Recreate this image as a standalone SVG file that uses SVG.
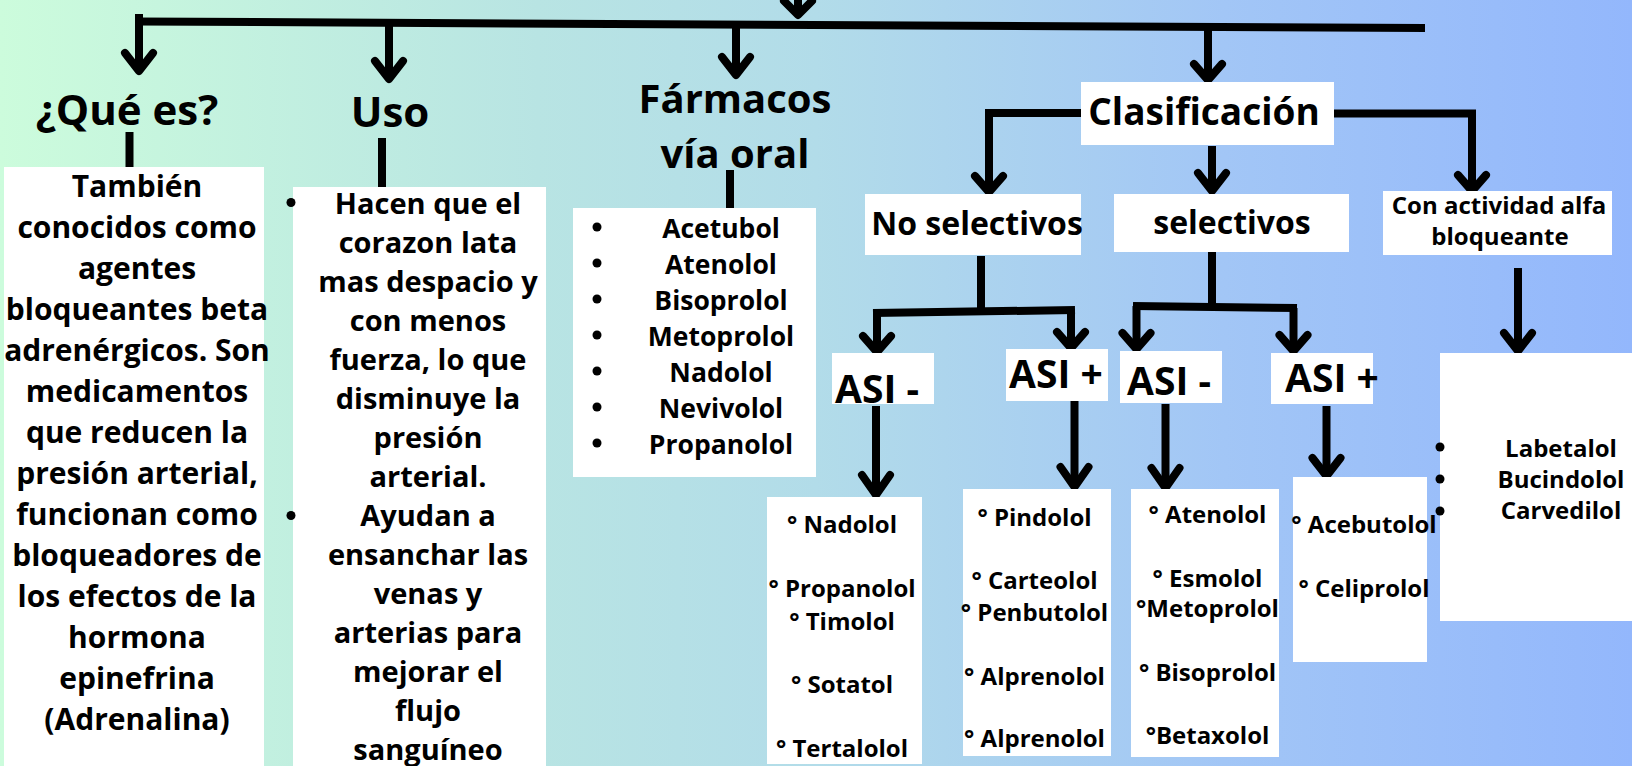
<svg xmlns="http://www.w3.org/2000/svg" width="1632" height="766" viewBox="0 0 1632 766">
<defs>
<linearGradient id="bg" x1="0" y1="0" x2="1" y2="0">
<stop offset="0" stop-color="#ccfcdc"/>
<stop offset="0.33" stop-color="#b8e4e3"/>
<stop offset="0.5" stop-color="#b2dce9"/>
<stop offset="0.75" stop-color="#a2c6f6"/>
<stop offset="1" stop-color="#93b7fc"/>
</linearGradient>
<style>
text{font-family:"Open Sans","Noto Sans","Liberation Sans",sans-serif;font-weight:700;fill:#000;}
.c{text-anchor:middle;}
.h{font-size:42px;}
.f{font-size:40px;}
.cl{font-size:37px;}
.m{font-size:32px;}
.asi{font-size:39px;}
.b1{font-size:30px;}
.b2{font-size:29px;}
.b3{font-size:26.5px;}
.s{font-size:24px;}
.box{fill:#fff;}
.ln{fill:none;stroke:#000;stroke-width:8;stroke-linecap:butt;stroke-linejoin:miter;}
.hd{fill:none;stroke:#000;stroke-width:8;stroke-linecap:round;stroke-linejoin:round;}
</style>
</defs>
<rect width="1632" height="766" fill="url(#bg)"/>

<g id="connectors">
<path class="ln" d="M136,21.5 L1425,28"/>
<path class="ln" d="M798,-5 V14"/>
<path class="hd" d="M784,1 L798,15 L812,1"/>
<path class="ln" d="M139,14 V71"/>
<path class="hd" d="M125,53 L139,71 L153,53"/>
<path class="ln" d="M389,24 V79"/>
<path class="hd" d="M375,61 L389,79 L403,61"/>
<path class="ln" d="M736,25 V75"/>
<path class="hd" d="M722,57 L736,75 L750,57"/>
<path class="ln" d="M1208,27 V80"/>
<path class="hd" d="M1194,64 L1208,80 L1222,64"/>
<path class="ln" d="M129.5,132 V167"/>
<path class="ln" d="M382,138 V187"/>
<path class="ln" d="M730,170 V208"/>
<path class="ln" d="M1081,113 H989 V192"/>
<path class="hd" d="M975,176 L989,192 L1003,176"/>
<path class="ln" d="M1212,146 V191"/>
<path class="hd" d="M1198,173 L1212,191 L1226,173"/>
<path class="ln" d="M1334,113.5 H1472 V191"/>
<path class="hd" d="M1458,175 L1472,191 L1486,175"/>
<path class="ln" d="M981,256 V311"/>
<path class="ln" d="M873,313 L1075,310"/>
<path class="ln" d="M877,313 V352"/>
<path class="hd" d="M863,336 L877,352 L891,336"/>
<path class="ln" d="M1071,310 V348"/>
<path class="hd" d="M1057,332 L1071,348 L1085,332"/>
<path class="ln" d="M876,406 V495"/>
<path class="hd" d="M862,475 L876,495 L890,475"/>
<path class="ln" d="M1074.5,401 V487"/>
<path class="hd" d="M1060.5,467 L1074.5,487 L1088.5,467"/>
<path class="ln" d="M1212,252 V307"/>
<path class="ln" d="M1133,306 L1297,308"/>
<path class="ln" d="M1136.5,306 V349"/>
<path class="hd" d="M1122.5,333 L1136.5,349 L1150.5,333"/>
<path class="ln" d="M1293.5,308 V351"/>
<path class="hd" d="M1279.5,335 L1293.5,351 L1307.5,335"/>
<path class="ln" d="M1165.5,404 V488"/>
<path class="hd" d="M1151.5,468 L1165.5,488 L1179.5,468"/>
<path class="ln" d="M1326.5,406 V476"/>
<path class="hd" d="M1312.5,458 L1326.5,476 L1340.5,458"/>
<path class="ln" d="M1518,268 V351"/>
<path class="hd" d="M1504,333 L1518,351 L1532,333"/>
</g>

<g id="que-es">
<text class="h c" x="127" y="125">¿Qué es?</text>
</g>
<g id="que-es-desc">
<rect class="box" x="4" y="167" width="260" height="600"/>
<text class="b1 c" x="137" y="197">También</text>
<text class="b1 c" x="137" y="238">conocidos como</text>
<text class="b1 c" x="137" y="279">agentes</text>
<text class="b1 c" x="137" y="320">bloqueantes beta</text>
<text class="b1 c" x="137" y="361">adrenérgicos. Son</text>
<text class="b1 c" x="137" y="402">medicamentos</text>
<text class="b1 c" x="137" y="443">que reducen la</text>
<text class="b1 c" x="137" y="484">presión arterial,</text>
<text class="b1 c" x="137" y="525">funcionan como</text>
<text class="b1 c" x="137" y="566">bloqueadores de</text>
<text class="b1 c" x="137" y="607">los efectos de la</text>
<text class="b1 c" x="137" y="648">hormona</text>
<text class="b1 c" x="137" y="689">epinefrina</text>
<text class="b1 c" x="137" y="730">(Adrenalina)</text>
</g>

<g id="uso">
<text class="h c" x="390" y="127">Uso</text>
</g>
<g id="uso-desc">
<rect class="box" x="293" y="187" width="253" height="580"/>
<circle cx="291" cy="202.5" r="4.5"/>
<circle cx="291" cy="515.5" r="4.5"/>
<text class="b2 c" x="428" y="214">Hacen que el</text>
<text class="b2 c" x="428" y="253">corazon lata</text>
<text class="b2 c" x="428" y="292">mas despacio y</text>
<text class="b2 c" x="428" y="331">con menos</text>
<text class="b2 c" x="428" y="370">fuerza, lo que</text>
<text class="b2 c" x="428" y="409">disminuye la</text>
<text class="b2 c" x="428" y="448">presión</text>
<text class="b2 c" x="428" y="487">arterial.</text>
<text class="b2 c" x="428" y="526">Ayudan a</text>
<text class="b2 c" x="428" y="565">ensanchar las</text>
<text class="b2 c" x="428" y="604">venas y</text>
<text class="b2 c" x="428" y="643">arterias para</text>
<text class="b2 c" x="428" y="682">mejorar el</text>
<text class="b2 c" x="428" y="721">flujo</text>
<text class="b2 c" x="428" y="760">sanguíneo</text>
</g>

<g id="farmacos">
<text class="f c" x="735" y="113">Fármacos</text>
<text class="f c" x="735" y="168">vía oral</text>
</g>
<g id="farmacos-lista">
<rect class="box" x="573" y="208" width="243" height="269"/>
<circle cx="597" cy="227" r="4.5"/>
<circle cx="597" cy="263" r="4.5"/>
<circle cx="597" cy="299" r="4.5"/>
<circle cx="597" cy="335" r="4.5"/>
<circle cx="597" cy="371" r="4.5"/>
<circle cx="597" cy="407" r="4.5"/>
<circle cx="597" cy="443" r="4.5"/>
<text class="b3 c" x="721" y="238">Acetubol</text>
<text class="b3 c" x="721" y="274">Atenolol</text>
<text class="b3 c" x="721" y="310">Bisoprolol</text>
<text class="b3 c" x="721" y="346">Metoprolol</text>
<text class="b3 c" x="721" y="382">Nadolol</text>
<text class="b3 c" x="721" y="418">Nevivolol</text>
<text class="b3 c" x="721" y="454">Propanolol</text>
</g>

<g id="clasificacion">
<rect class="box" x="1081" y="82" width="253" height="63"/>
<text class="cl c" x="1204" y="125">Clasificación</text>
</g>

<g id="no-selectivos">
<rect class="box" x="865" y="194" width="216" height="61"/>
<text class="m c" x="977" y="235">No selectivos</text>
</g>
<g id="selectivos">
<rect class="box" x="1114" y="194" width="235" height="58"/>
<text class="m c" x="1232" y="234">selectivos</text>
</g>
<g id="alfa">
<rect class="box" x="1383" y="191" width="229" height="64"/>
<text class="s c" x="1499" y="214">Con actividad alfa</text>
<text class="s c" x="1500" y="245">bloqueante</text>
</g>

<g id="ns-asi-menos">
<rect class="box" x="832" y="353" width="102" height="51"/>
<text class="asi" x="835" y="403">ASI -</text>
</g>
<g id="ns-asi-mas">
<rect class="box" x="1006" y="349" width="102" height="52"/>
<text class="asi" x="1009" y="388">ASI +</text>
</g>
<g id="s-asi-menos">
<rect class="box" x="1120" y="351" width="102" height="52"/>
<text class="asi" x="1127" y="395">ASI -</text>
</g>
<g id="s-asi-mas">
<rect class="box" x="1271" y="353" width="102" height="51"/>
<text class="asi" x="1285" y="392">ASI +</text>
</g>

<g id="lista-ns-menos">
<rect class="box" x="767" y="497" width="155" height="267"/>
<text class="s c" x="842" y="533">° Nadolol</text>
<text class="s c" x="842" y="597">° Propanolol</text>
<text class="s c" x="842" y="630">° Timolol</text>
<text class="s c" x="842" y="693">° Sotatol</text>
<text class="s c" x="842" y="757">° Tertalolol</text>
</g>
<g id="lista-ns-mas">
<rect class="box" x="963" y="489" width="148" height="267"/>
<text class="s c" x="1034.5" y="526">° Pindolol</text>
<text class="s c" x="1034.5" y="589">° Carteolol</text>
<text class="s c" x="1034.5" y="621">° Penbutolol</text>
<text class="s c" x="1034.5" y="684.5">° Alprenolol</text>
<text class="s c" x="1034.5" y="747">° Alprenolol</text>
</g>
<g id="lista-s-menos">
<rect class="box" x="1131" y="489" width="148" height="268"/>
<text class="s c" x="1207.5" y="523">° Atenolol</text>
<text class="s c" x="1207.5" y="587">° Esmolol</text>
<text class="s c" x="1207.5" y="617">°Metoprolol</text>
<text class="s c" x="1207.5" y="681">° Bisoprolol</text>
<text class="s c" x="1207.5" y="744">°Betaxolol</text>
</g>
<g id="lista-s-mas">
<rect class="box" x="1293" y="477" width="134" height="185"/>
<text class="s c" x="1364" y="533">° Acebutolol</text>
<text class="s c" x="1364" y="597">° Celiprolol</text>
</g>
<g id="lista-alfa">
<rect class="box" x="1440" y="353" width="192" height="268"/>
<circle cx="1440" cy="447" r="4.5"/>
<circle cx="1440" cy="479" r="4.5"/>
<circle cx="1440" cy="511" r="4.5"/>
<text class="s c" x="1561" y="456.5">Labetalol</text>
<text class="s c" x="1561" y="487.5">Bucindolol</text>
<text class="s c" x="1561" y="519">Carvedilol</text>
</g>
</svg>
